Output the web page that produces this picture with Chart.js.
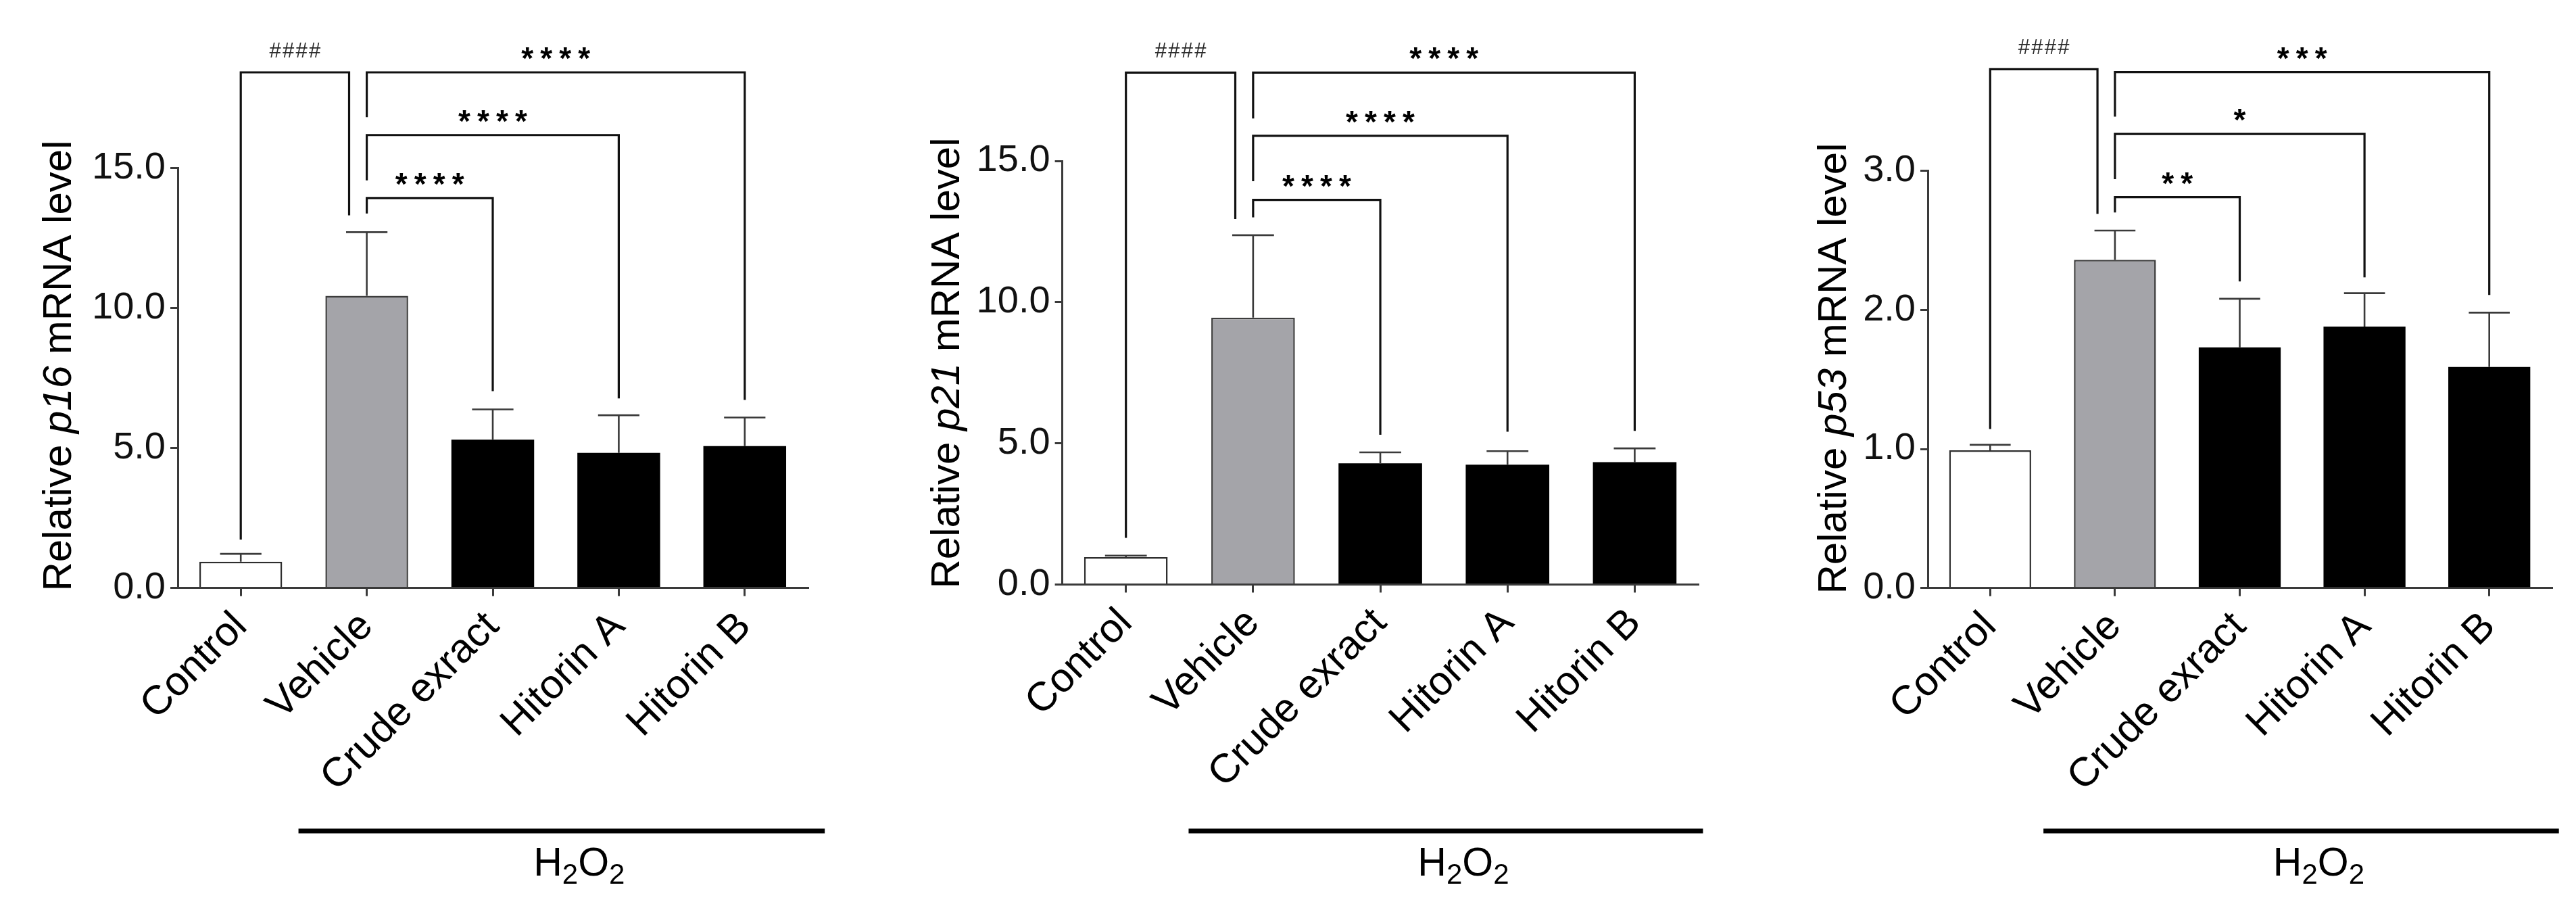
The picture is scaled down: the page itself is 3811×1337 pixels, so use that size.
<!DOCTYPE html>
<html>
<head>
<meta charset="utf-8">
<script src="https://cdn.jsdelivr.net/npm/chart.js@4.4.1/dist/chart.umd.min.js"></script>
<style>
html,body{margin:0;padding:0;background:#fff;}
#wrap{position:relative;width:3811px;height:1337px;overflow:hidden;background:#fff;}
canvas{position:absolute;top:0;}
</style>
</head>
<body>
<div id="wrap">
<canvas id="c1" style="left:0px" width="1290" height="1337"></canvas>
<canvas id="c2" style="left:1290px" width="1290" height="1337"></canvas>
<canvas id="c3" style="left:2580px" width="1231" height="1337"></canvas>
</div>
<script>
// ---------------- data ----------------
const categories = ['Control', 'Vehicle', 'Crude exract', 'Hitorin A', 'Hitorin B'];
const treatmentLabel = ['H', '2', 'O', '2']; // H2O2 (subscripts at odd positions)

// p16
const p16Mean = [0.94, 10.44, 5.30, 4.83, 5.07];
const p16Err  = [0.28, 2.27, 1.08, 1.34, 1.02];
const p16Ticks = [0, 5, 10, 15];
const p16BracketFrom     = [0, 1, 1, 1];
const p16BracketTo       = [0.86, 2, 3, 4];
const p16BracketLevel    = [18.42, 13.93, 16.18, 18.42];
const p16BracketLeftEnd  = [1.73, 13.38, 14.56, 16.82];
const p16BracketRightEnd = [13.31, 7.03, 6.77, 6.72];
const p16BracketLabel    = ['####', '****', '****', '****'];

// p21
const p21Mean = [0.97, 9.45, 4.29, 4.24, 4.33];
const p21Err  = [0.05, 2.92, 0.39, 0.48, 0.49];
const p21Ticks = [0, 5, 10, 15];
const p21BracketFrom     = [0, 1, 1, 1];
const p21BracketTo       = [0.86, 2, 3, 4];
const p21BracketLevel    = [18.13, 13.62, 15.89, 18.13];
const p21BracketLeftEnd  = [1.65, 13.00, 14.28, 16.50];
const p21BracketRightEnd = [12.94, 5.30, 5.41, 5.44];
const p21BracketLabel    = ['####', '****', '****', '****'];

// p53
const p53Mean = [0.99, 2.36, 1.73, 1.88, 1.59];
const p53Err  = [0.04, 0.21, 0.35, 0.24, 0.39];
const p53Ticks = [0, 1, 2, 3];
const p53BracketFrom     = [0, 1, 1, 1];
const p53BracketTo       = [0.86, 2, 3, 4];
const p53BracketLevel    = [3.73, 2.81, 3.265, 3.71];
const p53BracketLeftEnd  = [1.144, 2.70, 2.94, 3.39];
const p53BracketRightEnd = [2.69, 2.205, 2.233, 2.107];
const p53BracketLabel    = ['####', '**', '*', '***'];

// treated group span (category units) under the H2O2 bar
const p16TreatedSpan = [0.458, 4.635];
const p21TreatedSpan = [0.493, 4.537];
const p53TreatedSpan = [0.427, 4.558];

// ---------------- styles ----------------
const FONT = "'Liberation Sans', Arial, Helvetica, sans-serif";
const barFill   = ['#ffffff', '#a4a4a9', '#000000', '#000000', '#000000'];
const barBorder = ['#2e2e2e', '#3c3c3c', '#000000', '#000000', '#000000'];
const barBorderW = [2.5, 2.5, 0, 0, 0];
const AXIS = '#3a3a3a';

const panels = [
  { id: 'c1', gene: 'p16', mean: p16Mean, err: p16Err, ticks: p16Ticks,
    bf: p16BracketFrom, bt: p16BracketTo, bl: p16BracketLevel, ble: p16BracketLeftEnd, bre: p16BracketRightEnd, blab: p16BracketLabel,
    span: p16TreatedSpan, yW: 263, top: 248.6, xH: 467.4, pr: 95, titleX: 105, titleY: 541 },
  { id: 'c2', gene: 'p21', mean: p21Mean, err: p21Err, ticks: p21Ticks,
    bf: p21BracketFrom, bt: p21BracketTo, bl: p21BracketLevel, ble: p21BracketLeftEnd, bre: p21BracketRightEnd, blab: p21BracketLabel,
    span: p21TreatedSpan, yW: 281.6, top: 238, xH: 472.6, pr: 67.5, titleX: 128.6, titleY: 537 },
  { id: 'c3', gene: 'p53', mean: p53Mean, err: p53Err, ticks: p53Ticks,
    bf: p53BracketFrom, bt: p53BracketTo, bl: p53BracketLevel, ble: p53BracketLeftEnd, bre: p53BracketRightEnd, blab: p53BracketLabel,
    span: p53TreatedSpan, yW: 272, top: 252.6, xH: 467.3, pr: 36, titleX: 151, titleY: 545 }
];

function drawCenteredGlyphs(ctx, text, cx, cy, font, pitch, color) {
  ctx.font = font;
  ctx.fillStyle = color;
  ctx.textAlign = 'center';
  ctx.textBaseline = 'alphabetic';
  const m = ctx.measureText(text[0]);
  const baseline = cy + (m.actualBoundingBoxAscent - m.actualBoundingBoxDescent) / 2;
  const n = text.length;
  for (let i = 0; i < n; i++) {
    ctx.fillText(text[i], cx + (i - (n - 1) / 2) * pitch, baseline);
  }
}

function makePlugin(p) {
  return {
    id: 'extras_' + p.id,
    afterDatasetsDraw(chart) {
      // error bars (upper only)
      const ctx = chart.ctx, ys = chart.scales.y;
      const meta = chart.getDatasetMeta(0);
      ctx.save();
      ctx.strokeStyle = '#3a3a3a';
      ctx.lineWidth = 2.6;
      meta.data.forEach((bar, i) => {
        const x = bar.x;
        const y0 = ys.getPixelForValue(p.mean[i]);
        const y1 = ys.getPixelForValue(p.mean[i] + p.err[i]);
        const hw = bar.width / 4;
        ctx.beginPath();
        ctx.moveTo(x, y0); ctx.lineTo(x, y1);
        ctx.moveTo(x - hw, y1); ctx.lineTo(x + hw, y1);
        ctx.stroke();
      });
      ctx.restore();
    },
    afterDraw(chart) {
      const ctx = chart.ctx, xs = chart.scales.x, ys = chart.scales.y;
      ctx.save();
      // significance brackets
      ctx.strokeStyle = '#111';
      ctx.lineWidth = 3.2;
      ctx.lineJoin = 'miter';
      for (let k = 0; k < p.bf.length; k++) {
        const x1 = xs.getPixelForValue(p.bf[k]);
        const x2 = xs.getPixelForValue(p.bt[k]);
        const yL = ys.getPixelForValue(p.bl[k]);
        const yA = ys.getPixelForValue(p.ble[k]);
        const yB = ys.getPixelForValue(p.bre[k]);
        ctx.beginPath();
        ctx.moveTo(x1, yA); ctx.lineTo(x1, yL); ctx.lineTo(x2, yL); ctx.lineTo(x2, yB);
        ctx.stroke();
        const lab = p.blab[k];
        const cx = (x1 + x2) / 2;
        if (lab[0] === '#') {
          drawCenteredGlyphs(ctx, lab, cx, yL - 33, '31px ' + FONT, 19.5, '#2a2a2a');
        } else {
          drawCenteredGlyphs(ctx, lab, cx, yL - 28, 'bold 46px ' + FONT, 28, '#000');
        }
      }
      // y-axis title with italic gene name
      const parts = [['Relative ', 'normal'], [p.gene, 'italic'], [' mRNA level', 'normal']];
      const F = 60;
      let total = 0;
      parts.forEach(([t, st]) => { ctx.font = st + ' ' + F + 'px ' + FONT; total += ctx.measureText(t).width; });
      ctx.translate(p.titleX, p.titleY);
      ctx.rotate(-Math.PI / 2);
      ctx.fillStyle = '#000';
      ctx.textAlign = 'left';
      ctx.textBaseline = 'alphabetic';
      let pos = -total / 2;
      parts.forEach(([t, st]) => {
        ctx.font = st + ' ' + F + 'px ' + FONT;
        ctx.fillText(t, pos, 0);
        pos += ctx.measureText(t).width;
      });
      ctx.setTransform(1, 0, 0, 1, 0, 0);
      // treatment bar + H2O2 label
      const lx1 = xs.getPixelForValue(p.span[0]);
      const lx2 = xs.getPixelForValue(p.span[1]);
      ctx.fillStyle = '#000';
      ctx.fillRect(lx1, 1225.5, lx2 - lx1, 7);
      const big = '59px ' + FONT, small = '42px ' + FONT;
      let w = 0;
      treatmentLabel.forEach((t, i) => { ctx.font = (i % 2 ? small : big); w += ctx.measureText(t).width; });
      let tx = (lx1 + lx2) / 2 + 26 - w / 2;
      treatmentLabel.forEach((t, i) => {
        ctx.font = (i % 2 ? small : big);
        ctx.fillText(t, tx, i % 2 ? 1307 : 1295);
        tx += ctx.measureText(t).width;
      });
      ctx.restore();
    }
  };
}

panels.forEach(p => {
  const ctx = document.getElementById(p.id).getContext('2d');
  new Chart(ctx, {
    type: 'bar',
    data: {
      labels: categories,
      datasets: [{
        data: p.mean,
        backgroundColor: barFill,
        borderColor: barBorder,
        borderWidth: barBorderW,
        barPercentage: 0.657,
        categoryPercentage: 1.0
      }]
    },
    options: {
      responsive: false,
      devicePixelRatio: 1,
      animation: false,
      events: [],
      layout: { padding: { left: 0, top: p.top, right: p.pr, bottom: 0 } },
      plugins: { legend: { display: false }, tooltip: { enabled: false }, title: { display: false } },
      scales: {
        x: {
          type: 'category',
          offset: true,
          grid: { offset: false, drawOnChartArea: false, drawTicks: true, tickLength: 12, color: AXIS, lineWidth: 3 },
          border: { display: true, color: AXIS, width: 3 },
          ticks: { color: '#000', font: { family: FONT, size: 60 }, minRotation: 45, maxRotation: 45, autoSkip: false, padding: 10 },
          afterFit: s => { s.height = p.xH; }
        },
        y: {
          min: p.ticks[0],
          max: p.ticks[p.ticks.length - 1],
          afterBuildTicks: s => { s.ticks = p.ticks.map(v => ({ value: v })); },
          grid: { drawOnChartArea: false, drawTicks: true, tickLength: 11, color: AXIS, lineWidth: 3 },
          border: { display: true, color: AXIS, width: 3 },
          ticks: { color: '#111', font: { family: FONT, size: 56 }, padding: 7, callback: v => Number(v).toFixed(1) },
          afterFit: s => { s.width = p.yW; }
        }
      }
    },
    plugins: [makePlugin(p)]
  });
});
</script>
</body>
</html>
